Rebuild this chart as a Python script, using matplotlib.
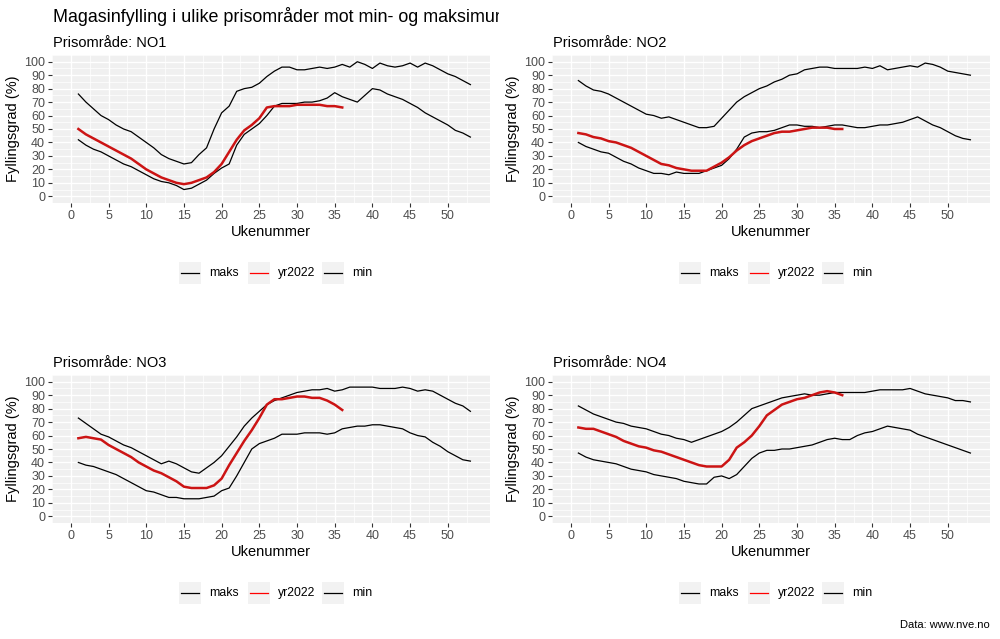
import numpy as np
import matplotlib
matplotlib.use("Agg")
import matplotlib.pyplot as plt
from matplotlib.patches import Rectangle
from matplotlib.lines import Line2D
from matplotlib.transforms import Bbox, TransformedBbox

plt.rcParams['font.family'] = ['Liberation Sans', 'DejaVu Sans']

weeks = np.arange(1, 54)
weeks_2022 = np.arange(1, 37)
areas = ["NO1", "NO2", "NO3", "NO4"]

no1_maks = [76, 70, 65, 60, 57, 53, 50, 48, 44, 40, 36, 31, 28, 26, 24, 25, 31, 36, 50, 62,
            67, 78, 80, 81, 84, 89, 93, 96, 96, 94, 94, 95, 96, 95, 96, 98, 96, 100, 98, 95,
            99, 97, 96, 97, 99, 96, 99, 97, 94, 91, 89, 86, 83]
no1_min = [42, 38, 35, 33, 30, 27, 24, 22, 19, 16, 13, 11, 10, 8, 5, 6, 9, 12, 17, 21,
           24, 38, 46, 50, 54, 60, 67, 69, 69, 69, 70, 70, 71, 73, 77, 74, 72, 70, 75, 80,
           79, 76, 74, 72, 69, 66, 62, 59, 56, 53, 49, 47, 44]
no1_2022 = [50, 46, 43, 40, 37, 34, 31, 28, 24, 20, 17, 14, 12, 10, 9, 10, 12, 14, 18, 24,
            33, 42, 49, 53, 58, 66, 67, 67, 67, 68, 68, 68, 68, 67, 67, 66]

no2_maks = [86, 82, 79, 78, 76, 73, 70, 67, 64, 61, 60, 58, 59, 57, 55, 53, 51, 51, 52, 58,
            64, 70, 74, 77, 80, 82, 85, 87, 90, 91, 94, 95, 96, 96, 95, 95, 95, 95, 96, 95,
            97, 94, 95, 96, 97, 96, 99, 98, 96, 93, 92, 91, 90]
no2_min = [40, 37, 35, 33, 32, 29, 26, 24, 21, 19, 17, 17, 16, 18, 17, 17, 17, 19, 21, 23,
           28, 35, 44, 47, 48, 48, 49, 51, 53, 53, 52, 52, 51, 52, 53, 53, 52, 51, 51, 52,
           53, 53, 54, 55, 57, 59, 56, 53, 51, 48, 45, 43, 42]
no2_2022 = [47, 46, 44, 43, 41, 40, 38, 36, 33, 30, 27, 24, 23, 21, 20, 19, 19, 19, 22, 25,
            29, 34, 38, 41, 43, 45, 47, 48, 48, 49, 50, 51, 51, 51, 50, 50]

no3_maks = [73, 69, 65, 61, 59, 56, 53, 51, 48, 45, 42, 39, 41, 39, 36, 33, 32, 36, 40, 45,
            52, 59, 67, 73, 78, 83, 86, 88, 90, 92, 93, 94, 94, 95, 93, 94, 96, 96, 96, 96,
            95, 95, 95, 96, 95, 93, 94, 93, 90, 87, 84, 82, 78]
no3_min = [40, 38, 37, 35, 33, 31, 28, 25, 22, 19, 18, 16, 14, 14, 13, 13, 13, 14, 15, 19,
           21, 30, 40, 50, 54, 56, 58, 61, 61, 61, 62, 62, 62, 61, 62, 65, 66, 67, 67, 68,
           68, 67, 66, 65, 62, 60, 59, 55, 52, 48, 45, 42, 41]
no3_2022 = [58, 59, 58, 57, 53, 50, 47, 44, 40, 37, 34, 32, 29, 26, 22, 21, 21, 21, 23, 28,
            38, 47, 56, 64, 73, 83, 87, 87, 88, 89, 89, 88, 88, 86, 83, 79]

no4_maks = [82, 79, 76, 74, 72, 70, 69, 67, 66, 65, 63, 61, 60, 58, 57, 55, 57, 59, 61, 63,
            66, 70, 75, 80, 82, 84, 86, 88, 89, 90, 91, 90, 90, 91, 92, 92, 92, 92, 92, 93,
            94, 94, 94, 94, 95, 93, 91, 90, 89, 88, 86, 86, 85]
no4_min = [47, 44, 42, 41, 40, 39, 37, 35, 34, 33, 31, 30, 29, 28, 26, 25, 24, 24, 29, 30,
           28, 31, 37, 43, 47, 49, 49, 50, 50, 51, 52, 53, 55, 57, 58, 57, 57, 60, 62, 63,
           65, 67, 66, 65, 64, 61, 59, 57, 55, 53, 51, 49, 47]
no4_2022 = [66, 65, 65, 63, 61, 59, 56, 54, 52, 51, 49, 48, 46, 44, 42, 40, 38, 37, 37, 37,
            42, 51, 55, 60, 67, 75, 79, 83, 85, 87, 88, 90, 92, 93, 92, 90]

maks = [no1_maks, no2_maks, no3_maks, no4_maks]
mins = [no1_min, no2_min, no3_min, no4_min]
yr2022 = [no1_2022, no2_2022, no3_2022, no4_2022]

W, H = 1000, 639
fig = plt.figure(figsize=(10, 6.39), dpi=100)
fig.patch.set_facecolor("white")

# panel rectangles in pixels (left, top)
panels = [(52, 55), (552, 55), (52, 375), (552, 375)]
pw, ph = 438, 148

for i, (px, py) in enumerate(panels):
    ax = fig.add_axes([px / W, 1 - (py + ph) / H, pw / W, ph / H])
    ax.set_facecolor("#F0F0F0")
    for s in ax.spines.values():
        s.set_visible(False)
    ax.set_xlim(-1.6, 55.6)
    ax.set_ylim(-5, 105)
    ax.set_xticks(np.arange(0, 55, 5))
    ax.set_yticks(np.arange(0, 101, 10))
    ax.set_xticks(np.arange(-2.5, 56, 5), minor=True)
    ax.set_yticks(np.arange(-5, 106, 10), minor=True)
    ax.grid(which="major", color="white", lw=1.0)
    ax.grid(which="minor", color="white", lw=0.5)
    ax.set_axisbelow(True)
    ax.tick_params(which="major", length=3, color="#333333", labelcolor="#4D4D4D",
                   labelsize=9, pad=2)
    ax.tick_params(which="minor", length=0)
    ax.set_xlabel("Ukenummer", fontsize=10.5, labelpad=2)
    ax.set_ylabel("Fyllingsgrad (%)", fontsize=10.5, labelpad=3)

    ax.plot(weeks, maks[i], color="black", lw=0.9)
    ax.plot(weeks, mins[i], color="black", lw=0.9)
    ax.plot(weeks_2022, yr2022[i], color="#CC1414", lw=1.8)

    fig.text((px + 1) / W, 1 - (py - 12) / H, "Prisområde: " + areas[i],
             fontsize=10.5, ha="left", va="center")

    # legend below each panel
    ly = 1 - (py + 218) / H
    keys = [(179, "maks", "black"), (248, "yr2022", "red"), (322, "min", "black")]
    for kx, lab, col in keys:
        x0 = px - 52 + kx
        fig.patches.append(Rectangle((x0 / W, ly - 11 / H), 22 / W, 22 / H,
                                     transform=fig.transFigure, facecolor="#F2F2F2",
                                     edgecolor="none"))
        fig.lines.append(Line2D([(x0 + 2) / W, (x0 + 20) / W], [ly, ly],
                                transform=fig.transFigure, color=col, lw=0.9))
        fig.text((x0 + 30) / W, ly, lab, fontsize=8.8, ha="left", va="center",
                 color="black")

title = fig.text(53 / W, 1 - 17 / H,
                 "Magasinfylling i ulike prisområder mot min- og maksimum",
                 fontsize=12.9, ha="left", va="center")
title.set_clip_box(TransformedBbox(Bbox([[0, 0], [0.499, 1]]), fig.transFigure))
title.set_clip_on(True)

fig.text(990 / W, 1 - 625 / H, "Data: www.nve.no", fontsize=8, ha="right", va="center")

fig.savefig("out.png", dpi=100)
